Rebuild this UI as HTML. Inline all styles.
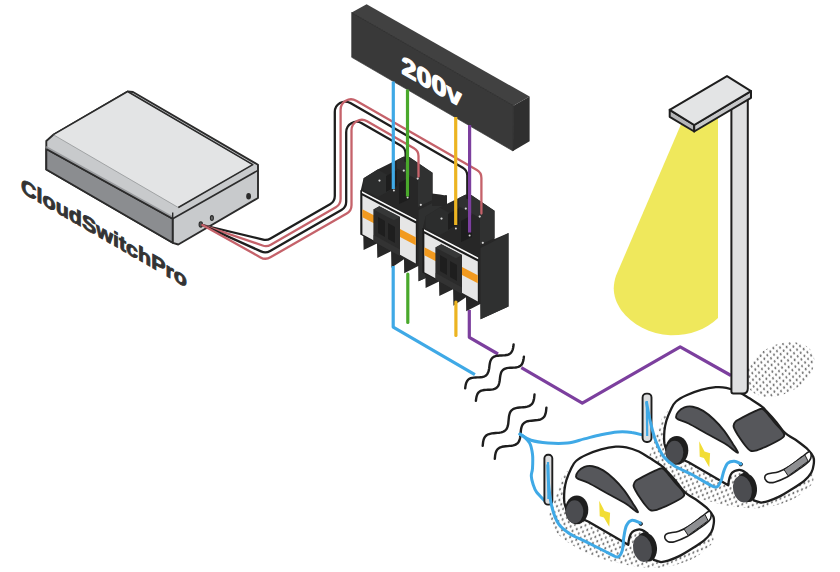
<!DOCTYPE html>
<html><head><meta charset="utf-8"><title>CloudSwitchPro</title>
<style>
html,body{margin:0;padding:0;background:#fff;}
svg{display:block;}
text{font-family:"Liberation Sans",sans-serif;font-weight:bold;}
</style></head>
<body>
<svg width="840" height="572" viewBox="0 0 840 572">
<defs>
<pattern id="dots" width="4.67" height="4.8" patternUnits="userSpaceOnUse" patternTransform="rotate(-23)">
<ellipse cx="2" cy="2" rx="0.92" ry="1.38" transform="rotate(45 2 2)" fill="#6c6c6c"/>
</pattern>

<g id="cont">
<polygon points="360.5,191.6 363.6,178.2 377.6,169.6 403.3,156.7 408.9,156.7 432.5,172.8 432.5,201 446.5,195 446.5,268.5 418.5,281.3 418.3,266 404.2,273.3 404,259.3 391.4,267.8 391.1,251.3 377.3,258 377,243.4 363.6,250.1 363.3,236 360.5,234.5" fill="#272727"/>
<polygon points="418.6,210 432.5,203 446.5,195 446.5,268.5 418.6,281.3" fill="#2f3030"/>
<polygon points="363.6,178.2 377.6,169.6 391,177 391,190 378,197 363.6,190" fill="#2c2d2d"/>
<polygon points="403.3,156.7 408.9,156.7 432.5,172.8 432.5,200 418,207 418,180 397,168.5 397,160" fill="#303131"/>
<polygon points="386,176 397,170 397,186 386,192" fill="#1d1d1d"/>
<polygon points="399,183 410,177 410,199 399,204" fill="#1d1d1d"/>
<polygon points="360.5,190 416.6,219 416.6,264 360.5,234.5" fill="#1c1c1c"/>
<polygon points="362.4,195.6 415.8,223.6 415.8,263.4 362.4,234.2" fill="#e6e6e6"/>
<polygon points="362,191.3 416.2,219.5 416.2,221.3 362,193.1" fill="#fcfcfc"/>
<polygon points="362.4,209.3 415.8,237.2 415.8,245.2 362.4,217.2" fill="#f29a1f"/>
<polygon points="373.4,209.6 379.3,206.2 400,217 400,256 373.4,241.5" fill="#2b2b2b"/>
<polygon points="373.4,209.6 379.3,206.2 400,217 394,220.3" fill="#363737"/>
<polygon points="378,217 385,221 385,237 378,233" fill="#1e1e1e"/>
<polygon points="388,223 395,227 395,243 388,239" fill="#1e1e1e"/>
<polygon points="373.6,235 400,249.5 400,256 373.6,241.5" fill="#333"/>
<g fill="#d8d8d8">
<circle cx="379.5" cy="180.6" r="1.1"/><circle cx="403.8" cy="170.6" r="1.1"/><circle cx="417.7" cy="178.6" r="1.1"/>
<circle cx="393.9" cy="190.4" r="1"/><circle cx="407.6" cy="197.6" r="1"/><circle cx="420.8" cy="204.8" r="1.1"/>
</g>
</g>


<g id="car">
<path d="M567.6,512.3 C567.1,510.8 565.0,506.6 564.4,502.9 C563.9,499.2 564.1,494.2 564.4,490.3 C564.8,486.5 565.5,483.3 566.5,479.8 C567.6,476.3 569.2,472.5 570.7,469.4 C572.3,466.2 573.3,463.4 576.0,461.0 C578.6,458.5 582.3,456.6 586.5,454.7 C590.6,452.8 596.2,450.8 601.1,449.4 C606.0,448.1 611.6,447.1 615.8,446.7 C620.0,446.4 622.4,446.5 626.3,447.3 C630.1,448.1 635.0,449.8 638.9,451.5 C642.7,453.3 645.5,455.4 649.4,457.8 C653.2,460.3 659.1,464.1 661.9,466.2 C664.7,468.3 663.7,467.8 666.1,470.4 C668.6,473.0 673.5,478.3 676.6,481.9 C679.8,485.6 681.5,489.3 685.0,492.4 C688.5,495.6 693.7,498.0 697.6,500.8 C701.4,503.6 705.5,506.6 708.1,509.2 C710.7,511.8 712.4,514.1 713.3,516.5 C714.3,519.0 714.1,521.3 713.7,523.9 C713.4,526.5 712.9,529.5 711.2,532.3 C709.6,535.1 707.2,537.9 703.9,540.7 C700.6,543.4 695.5,546.4 691.3,549.0 C687.1,551.7 682.6,554.5 678.7,556.4 C674.9,558.3 671.2,559.6 668.2,560.6 C665.3,561.5 662.1,562.0 660.9,562.2 L653.6,559.9 L647.3,533.3 C644.3,531.1 642.4,529.3 639.4,529.3 C633.5,530.3 629.6,530.8 628.2,544.8 L625.2,543.0 L588.6,521.8 Z" fill="#fff" stroke="#1e1e1e" stroke-width="2.3" stroke-linejoin="round"/>
<path d="M576.0,476.7 C576.0,475.6 576.9,472.9 578.1,471.5 C579.3,470.0 582.3,467.6 584.4,466.8 C586.5,466.1 590.0,465.7 592.7,466.2 C595.4,466.7 600.2,468.6 603.2,470.4 C606.2,472.2 610.7,475.9 613.7,478.8 C616.7,481.6 621.5,486.9 624.2,490.3 C626.9,493.8 630.6,499.8 632.6,502.9 C634.5,506.1 638.7,512.2 637.8,512.3 C636.9,512.5 630.6,506.7 626.3,504.0 C622.0,501.3 612.8,496.5 607.4,493.5 C602.0,490.5 592.7,485.1 588.6,483.0 C584.4,480.9 579.9,479.7 578.1,478.8 C576.3,477.9 576.0,477.7 576.0,476.7Z" fill="#56575b" stroke="#1e1e1e" stroke-width="1.9" stroke-linejoin="round"/>
<path d="M633.6,485.1 C633.8,484.0 634.4,482.1 635.7,480.9 C637.1,479.7 640.2,478.2 643.1,476.7 C645.9,475.2 653.0,471.6 655.7,470.4 C658.3,469.2 660.4,468.2 661.9,468.3 C663.4,468.5 664.3,469.5 666.1,471.5 C667.9,473.4 672.1,479.1 674.5,481.9 C676.9,484.8 681.6,489.4 682.9,491.4 C684.3,493.3 684.6,494.4 684.0,495.6 C683.4,496.8 681.3,498.3 678.7,499.8 C676.2,501.3 669.4,504.6 666.1,506.1 C662.8,507.5 657.9,509.6 655.7,510.2 C653.4,510.8 651.9,511.0 650.4,510.2 C648.9,509.5 647.0,507.2 645.2,505.0 C643.4,502.8 639.4,496.9 637.8,494.5 C636.3,492.1 634.9,489.6 634.3,488.2 C633.7,486.9 633.4,486.1 633.6,485.1Z" fill="#56575b" stroke="#1e1e1e" stroke-width="1.9" stroke-linejoin="round"/>
<path d="M665.1,535.4 C665.6,534.5 666.0,534.0 668.2,533.3 C670.5,532.6 675.2,532.4 678.7,531.2 C682.2,530.0 685.4,528.4 689.2,526.0 C693.0,523.5 698.5,519.0 701.8,516.5 C705.1,514.1 707.5,511.5 709.1,511.3 C710.7,511.1 711.2,513.9 711.2,515.5 C711.2,517.1 711.0,518.6 709.1,520.7 C707.2,522.8 703.4,525.4 699.7,528.1 C696.0,530.7 691.3,534.2 687.1,536.5 C682.9,538.7 677.7,540.8 674.5,541.7 C671.4,542.6 669.8,542.2 668.2,541.7 C666.7,541.2 665.6,539.6 665.1,538.6 C664.6,537.5 664.6,536.3 665.1,535.4Z" fill="#fff" stroke="#1e1e1e" stroke-width="1.6" stroke-linejoin="round"/>
<polygon points="684.0,529.1 704.9,514.4 708.1,520.7 688.2,535.4" fill="#8e8f92" stroke="#1e1e1e" stroke-width="1"/>
<polygon points="599.2,500.8 604.5,510.9 610.1,512.8 609.3,526.8 603.9,517.6 599.7,516.3" fill="#f2dd35"/>
<!-- wheels -->
<ellipse cx="576.8" cy="509.8" rx="11.5" ry="14.4" fill="#1e1e1e"/>
<ellipse cx="574.6" cy="511.8" rx="8.7" ry="11.5" fill="#4b4c50"/>
<ellipse cx="646.4" cy="547" rx="10.4" ry="14.7" transform="rotate(-12 646.4 547)" fill="#1e1e1e"/>
<ellipse cx="642.4" cy="548.6" rx="9.3" ry="13.5" transform="rotate(-12 642.4 548.6)" fill="#4b4c50"/>
<circle cx="640.8" cy="523.8" r="1.7" fill="#3c6f96" stroke="#1e1e1e" stroke-width="0.9"/>
</g>

</defs>
<rect width="840" height="572" fill="#fff"/>

<!-- BOX -->
<g stroke="#2b2b2b" stroke-width="1.9" stroke-linejoin="round">
<polygon points="46.3,141 53.3,134.7 127.6,91.5 133,92 258,164.8 258,198 178.3,244.5 172.7,242.8 46.3,169.5" fill="#c8cacc"/>
<polygon points="46.3,149 172.7,218.7 172.7,242.8 46.3,169.5" fill="#8b8d90"/>
<polygon points="46.3,146 172.7,216 172.7,218.7 46.3,149" fill="#9b9da0" stroke="none"/>
<polyline points="46.3,149 172.7,218.7 258,170.4" fill="none" stroke-width="1.6"/>
<polyline points="172.7,212.4 172.7,243" fill="none" stroke-width="1.4"/>
<polygon points="53.3,134.7 127.6,91.5 252.8,164.8 178.3,207.5" fill="#e3e4e5" stroke="#8a8c8e" stroke-width="0.7"/>
<polyline points="53.3,134.7 127.6,91.5 252.8,164.6 178.3,207.5" fill="none" stroke-width="1.5"/>
</g>
<ellipse cx="200.8" cy="224.5" rx="1.7" ry="2.6" fill="#555" stroke="#2b2b2b" stroke-width="1.1"/>
<ellipse cx="211.9" cy="218" rx="1.5" ry="2.4" fill="#666" stroke="#2b2b2b" stroke-width="1.1"/>
<ellipse cx="248.6" cy="196.2" rx="2.4" ry="3.3" fill="#2b2b2b"/>
<g transform="translate(21,192) skewY(30)" opacity="0.999">
<text x="0" y="0" font-size="20.5" fill="#333" stroke="#333" stroke-width="0.9" stroke-linejoin="round" textLength="166" lengthAdjust="spacingAndGlyphs">CloudSwitchPro</text>
</g>

<!-- 200V BAR -->
<polygon points="351.7,12.6 366.6,4.2 529.6,96.5 513.4,105.7" fill="#414141"/>
<polygon points="513.4,105.7 529.6,96.5 529.6,141.3 513,151" fill="#2f2f2f"/>
<polygon points="351.7,12.6 513.4,105.7 513,151 351.7,57.3" fill="#393939" stroke="#393939" stroke-width="0.7"/>
<path d="M351.7,12.6 L513.4,105.7 L513.2,151" fill="none" stroke="#2c2c2c" stroke-width="0.8"/>
<g transform="translate(401.5,73) skewY(30)" opacity="0.999">
<text x="0" y="0" font-size="25.5" fill="#fff" stroke="#fff" stroke-width="1.3" stroke-linejoin="round" textLength="60" lengthAdjust="spacingAndGlyphs">200v</text>
</g>

<!-- CONTACTORS -->
<use href="#cont"/>
<polygon points="432,193.5 440,194.6 447,195.8 447,206 432,206" fill="#272727"/>
<use href="#cont" transform="translate(62,38)"/>

<!-- CONTROL WIRES -->
<g fill="none" stroke-width="2.3" stroke-linecap="round" stroke-linejoin="round">
<path d="M202.40,225.00 L263.19,239.59 A10.00,10.00 0 0 0 270.51,238.53 L330.04,204.30 A9.50,9.50 0 0 0 334.80,196.07 L334.80,112.09 A10.40,10.40 0 0 1 350.38,103.07 L462.77,167.69 A9.03,9.03 0 0 1 467.30,175.52 L467.30,198.00" stroke="#1e1e1e"/>
<path d="M202.40,225.00 L262.59,245.47 A10.00,10.00 0 0 0 270.80,244.67 L335.84,207.27 A9.50,9.50 0 0 0 340.60,199.03 L340.60,109.72 A10.40,10.40 0 0 1 356.18,100.71 L476.87,170.10 A9.03,9.03 0 0 1 481.40,177.93 L481.40,213.50" stroke="#c5626a"/>
<path d="M202.40,225.00 L261.05,251.39 A10.00,10.00 0 0 0 270.14,250.94 L341.44,209.95 A9.50,9.50 0 0 0 346.20,201.71 L346.20,132.14 A10.40,10.40 0 0 1 361.78,123.13 L401.07,145.72 A9.03,9.03 0 0 1 405.60,153.54 L405.60,161.00" stroke="#1e1e1e"/>
<path d="M202.40,225.00 L260.53,257.38 A10.00,10.00 0 0 0 270.38,257.31 L346.74,213.40 A9.50,9.50 0 0 0 351.50,205.17 L351.50,130.29 A10.40,10.40 0 0 1 367.08,121.27 L413.97,148.23 A9.03,9.03 0 0 1 418.50,156.06 L418.50,176.50" stroke="#c5626a"/>
</g>

<!-- COLOUR WIRES -->
<g fill="none" stroke-width="3.2" stroke-linecap="round" stroke-linejoin="round">
<path d="M393.3,81.5 L393.3,189" stroke="#3fa9e6" stroke-linecap="butt"/>
<path d="M407.5,89.5 L407.5,196.5" stroke="#4aa92c" stroke-linecap="butt"/>
<path d="M455.7,117 L455.7,225" stroke="#ecb421" stroke-linecap="butt"/>
<path d="M469.6,125 L469.6,232.5" stroke="#7c3f9e" stroke-linecap="butt"/>
<path d="M393.2,266 L393.2,327.1 L474.9,374.7" stroke="#3fa9e6" stroke-linecap="butt"/>
<path d="M407.8,274 L407.8,322.5" stroke="#4aa92c"/>
<path d="M455.9,302 L455.9,335.5" stroke="#ecb421"/>
<path d="M469.3,310 L469.3,337.3 L498,354 M521.3,367.6 L582.3,403.1 L680.2,346.9 L731,375.5" stroke="#7c3f9e" stroke-linecap="butt"/>
</g>
<g fill="none" stroke="#1e1e1e" stroke-width="2.4" stroke-linecap="round" stroke-linejoin="round">
<path d="M513.6,344.5 L513.4,346.3 L513.1,348.0 L512.7,349.6 L512.1,351.0 L511.4,352.2 L510.5,353.3 L509.4,354.1 L508.1,354.7 L506.6,355.0 L505.0,355.3 L503.3,355.4 L501.5,355.5 L499.7,355.5 L498.0,355.7 L496.4,355.9 L494.9,356.3 L493.6,356.9 L492.5,357.7 L491.6,358.7 L490.9,360.0 L490.3,361.4 L489.9,363.0 L489.6,364.7 L489.4,366.4 L489.2,368.2 L488.9,369.9 L488.5,371.5 L487.9,372.9 L487.2,374.2 L486.3,375.2 L485.2,376.0 L483.9,376.6 L482.4,377.0 L480.8,377.2 L479.1,377.4 L477.3,377.4 L475.5,377.5 L473.8,377.6 L472.2,377.9 L470.7,378.2 L469.4,378.8 L468.3,379.6 L467.4,380.7 L466.7,381.9 L466.1,383.3 L465.7,384.9 L465.4,386.6 L465.2,388.4"/>
<path d="M523.9,356.6 L523.7,358.4 L523.4,360.1 L523.0,361.7 L522.5,363.1 L521.8,364.4 L520.9,365.4 L519.8,366.2 L518.5,366.8 L517.0,367.2 L515.4,367.5 L513.7,367.6 L511.9,367.7 L510.1,367.8 L508.4,367.9 L506.8,368.1 L505.3,368.6 L504.0,369.2 L502.9,370.0 L502.0,371.0 L501.3,372.2 L500.8,373.7 L500.4,375.3 L500.1,377.0 L499.9,378.8 L499.7,380.5 L499.4,382.2 L499.0,383.8 L498.5,385.3 L497.8,386.5 L496.9,387.5 L495.8,388.3 L494.5,388.9 L493.0,389.4 L491.4,389.6 L489.7,389.7 L487.9,389.8 L486.1,389.9 L484.4,390.0 L482.8,390.3 L481.3,390.7 L480.0,391.3 L478.9,392.1 L478.0,393.1 L477.3,394.4 L476.8,395.8 L476.4,397.4 L476.1,399.1 L475.9,400.9"/>
<path d="M534.5,394.5 L534.3,396.5 L534.1,398.4 L533.7,400.2 L533.2,401.8 L532.5,403.2 L531.5,404.4 L530.3,405.4 L528.9,406.1 L527.2,406.6 L525.4,407.0 L523.5,407.2 L521.5,407.4 L519.6,407.5 L517.7,407.7 L515.9,408.1 L514.2,408.6 L512.8,409.3 L511.6,410.3 L510.6,411.5 L509.9,412.9 L509.4,414.5 L509.0,416.3 L508.8,418.2 L508.6,420.2 L508.4,422.2 L508.2,424.1 L507.8,425.9 L507.3,427.5 L506.6,428.9 L505.6,430.1 L504.4,431.1 L503.0,431.8 L501.3,432.3 L499.5,432.7 L497.6,432.9 L495.6,433.0 L493.7,433.2 L491.8,433.4 L490.0,433.8 L488.3,434.3 L486.9,435.0 L485.7,436.0 L484.7,437.2 L484.0,438.6 L483.5,440.2 L483.1,442.0 L482.9,443.9 L482.7,445.9"/>
<path d="M546.4,407.7 L546.2,409.7 L546.0,411.6 L545.6,413.4 L545.1,415.0 L544.4,416.4 L543.4,417.6 L542.2,418.5 L540.8,419.3 L539.2,419.8 L537.4,420.1 L535.5,420.3 L533.5,420.5 L531.5,420.7 L529.6,420.9 L527.8,421.2 L526.2,421.7 L524.8,422.5 L523.6,423.4 L522.6,424.6 L521.9,426.0 L521.4,427.6 L521.0,429.4 L520.8,431.3 L520.6,433.3 L520.4,435.3 L520.2,437.2 L519.8,439.0 L519.3,440.6 L518.6,442.0 L517.6,443.2 L516.4,444.1 L515.0,444.9 L513.4,445.4 L511.6,445.7 L509.7,445.9 L507.7,446.1 L505.7,446.3 L503.8,446.5 L502.0,446.8 L500.4,447.3 L499.0,448.1 L497.8,449.0 L496.8,450.2 L496.1,451.6 L495.6,453.2 L495.2,455.0 L495.0,456.9 L494.8,458.9"/>
</g>

<ellipse cx="780" cy="369.5" rx="36.5" ry="24.5" transform="rotate(-27 780 369.5)" fill="url(#dots)"/>

<path id="shd" d="M557.9,491.0 C554.6,497.8 551.0,505.2 550.0,511.0 C549.0,516.8 549.3,521.0 552.0,526.0 C554.7,531.0 559.0,536.0 566.0,541.0 C573.0,546.0 583.3,551.9 594.0,556.0 C604.7,560.1 618.8,563.6 630.0,565.5 C641.2,567.4 651.4,568.4 661.4,567.5 C671.4,566.6 682.2,563.3 690.0,560.0 C697.8,556.7 704.1,551.2 708.0,547.5 C711.9,543.8 714.5,542.9 713.2,537.5 C711.9,532.1 715.5,526.2 700.0,515.0 C684.5,503.8 641.7,477.5 620.0,470.0 C598.3,462.5 580.4,466.5 570.0,470.0 C559.6,473.5 561.2,484.2 557.9,491.0Z" fill="url(#dots)"/>
<use href="#shd" transform="translate(100,-59.5)"/>

<g fill="none" stroke="#3fa9e6" stroke-width="3" stroke-linecap="round">
<path d="M519.9,434.1 C521.8,435.1 526.4,438.8 531.1,440.3 C535.8,441.8 541.8,442.6 547.9,443.1 C554.0,443.6 561.4,443.8 567.5,443.1 C573.6,442.4 578.7,440.3 584.3,438.9 C589.9,437.5 595.4,435.9 601.0,434.7 C606.6,433.5 612.7,432.3 617.8,431.9 C622.9,431.5 627.6,431.8 631.8,432.4 C636.0,432.9 641.1,434.7 643.0,435.2"/>
<path d="M519.9,434.1 C520.5,434.4 521.7,434.6 523.3,436.1 C524.9,437.6 528.2,440.1 529.7,443.1 C531.2,446.1 532.0,450.1 532.5,454.3 C533.0,458.5 532.7,464.7 532.5,468.3 C532.3,471.9 531.2,473.4 531.3,476.0 C531.4,478.6 532.1,481.3 533.0,484.0 C533.9,486.7 534.6,489.4 536.6,492.2 C538.6,495.0 543.6,499.5 545.0,501.0"/>
</g>
<rect x="642.6" y="393.6" width="8.9" height="48.4" rx="3.9" fill="#dcddde" stroke="#1e1e1e" stroke-width="1.9"/>
<path d="M646.8,401 L647.2,436" stroke="#3fa9e6" stroke-width="2.2" fill="none"/>
<use href="#car" transform="translate(100,-59.5)"/>
<path d="M646.6,402.8 C647.2,406.1 649.0,416.1 650.5,422.4 C652.0,428.7 653.5,435.1 655.7,440.8 C657.9,446.5 660.5,452.4 663.6,456.5 C666.7,460.6 669.3,462.6 674.1,465.7 C678.9,468.8 686.3,471.5 692.4,474.8 C698.5,478.1 706.6,483.3 710.8,485.3 C714.9,487.3 715.5,487.5 717.3,486.6 C719.0,485.7 720.2,482.7 721.3,480.1 C722.4,477.5 722.8,473.7 723.9,470.9 C725.0,468.1 726.0,464.7 727.8,463.1 C729.5,461.5 732.2,461.1 734.4,461.2 C736.6,461.3 739.8,463.4 740.9,463.8" fill="none" stroke="#3fa9e6" stroke-width="3" stroke-linecap="round"/>
<rect x="544.4" y="454.8" width="7.9" height="49.8" rx="3.5" fill="#dcddde" stroke="#1e1e1e" stroke-width="1.9"/>
<path d="M548,462 L548.4,499" stroke="#3fa9e6" stroke-width="2.2" fill="none"/>
<use href="#car"/>
<path d="M547.8,465.3 C548.0,469.0 548.1,480.3 548.9,487.5 C549.6,494.7 550.6,502.4 552.3,508.5 C553.9,514.6 556.0,520.1 558.8,524.2 C561.6,528.4 564.5,530.3 569.3,533.4 C574.1,536.5 581.2,539.3 587.7,542.6 C594.2,545.9 603.6,550.7 608.6,553.1 C613.6,555.5 615.5,557.5 617.8,557.0 C620.1,556.5 621.3,553.7 622.3,550.4 C623.3,547.1 623.1,541.4 623.8,537.3 C624.5,533.1 625.1,528.3 626.5,525.5 C627.9,522.7 629.9,520.7 632.2,520.3 C634.5,519.9 638.8,522.5 640.1,522.9" fill="none" stroke="#3fa9e6" stroke-width="3" stroke-linecap="round"/>

<!-- LAMP -->
<path d="M682,122 L718,117 L718,318 C705,330 690,335.5 670.4,335.3 C650,334 632,325 621,310 C613,298 612,287 616.2,275.2 Z" fill="#efe85c"/>
<g stroke="#1e1e1e" stroke-width="2" stroke-linejoin="round">
<path d="M731.4,104 L731.4,391.5 Q731.4,393.5 733.4,393.5 L743,393.5 Q747.8,393.5 747.8,388.5 L747.8,96 Z" fill="#dfe0e1"/>
<polygon points="669.7,109.8 694.2,125 694.2,131.5 669.7,116.8" fill="#b4b5b7"/>
<polygon points="694.2,125 751,91.1 751,97.8 694.2,131.5" fill="#c6c7c9"/>
<polygon points="727,76.1 669.7,109.8 694.2,125 751,91.1" fill="#e3e4e5"/>
</g>
</svg>
</body></html>
